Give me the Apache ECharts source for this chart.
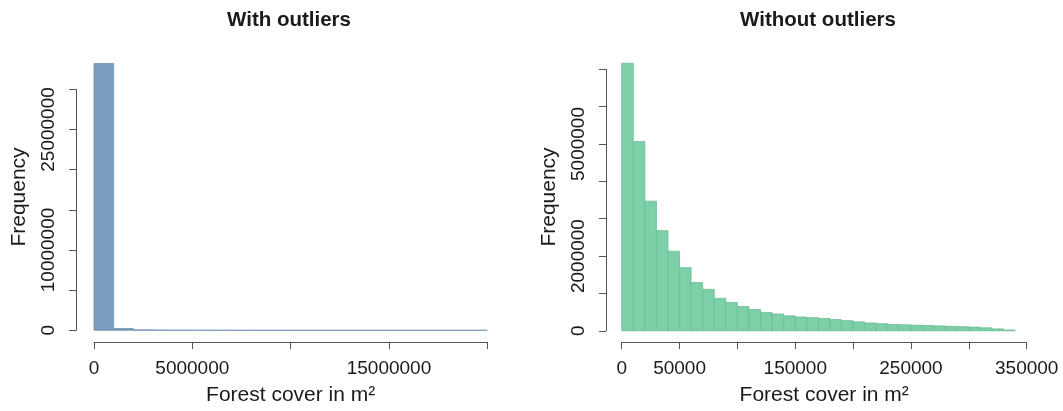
<!DOCTYPE html>
<html>
<head>
<meta charset="utf-8">
<script src="https://cdn.jsdelivr.net/npm/echarts@6/dist/echarts.min.js"></script>
<style>
html,body{margin:0;padding:0;background:#fff;}
#chart{width:1063px;height:411px;}
</style>
</head>
<body>
<div id="chart"></div>
<script>
// ---- data ----
const titles = ['With outliers', 'Without outliers'];
const xAxisTitle = 'Forest cover in m\u00b2';
const yAxisTitle = 'Frequency';

// Left histogram: bin width 1,000,000, bins from 0
const leftBinWidth = 1000000;
const leftCounts = [33200000, 220000, 60000, 25000, 12000, 8000, 5000, 4000, 3000, 2500,
                    2000, 1500, 1200, 1000, 800, 600, 500, 400, 300, 200];
const leftXTicks = [0, 5000000, 10000000, 15000000, 20000000];
const leftXLabels = [0, 5000000, 15000000];
const leftYTicks = [0, 5000000, 10000000, 15000000, 20000000, 25000000, 30000000];
const leftYLabels = [0, 10000000, 25000000];

// Right histogram: bin width 10,000, bins from 0
const rightBinWidth = 10000;
const rightCounts = [7160000, 5070000, 3470000, 2680000, 2130000, 1690000, 1290000, 1110000,
                     870000, 760000, 650000, 570000, 490000, 450000, 400000, 370000, 350000,
                     330000, 300000, 270000, 240000, 210000, 190000, 170000, 160000, 150000,
                     140000, 130000, 120000, 110000, 100000, 80000, 50000, 20000];
const rightXTicks = [0, 50000, 100000, 150000, 200000, 250000, 300000, 350000];
const rightXLabels = [0, 50000, 150000, 250000, 350000];
const rightYTicks = [0, 1000000, 2000000, 3000000, 4000000, 5000000, 6000000, 7000000];
const rightYLabels = [0, 2000000, 5000000];

// ---- styles ----
const FONT = "'Liberation Sans', Arial, Helvetica, sans-serif";
const AXIS_COLOR = '#555';
const TEXT_COLOR = '#1a1a1a';
const LEFT_FILL = '#7b9fbe';
const LEFT_STROKE = '#6d91b0';
const RIGHT_FILL = '#7dcfa8';
const RIGHT_STROKE = '#6bbd96';

function bins(counts, w) {
  return counts.map((c, i) => [i * w, (i + 1) * w, c]);
}

function histSeries(idx, data, fill, stroke) {
  return {
    type: 'custom',
    xAxisIndex: idx,
    yAxisIndex: idx,
    clip: false,
    silent: true,
    encode: { x: [0, 1], y: 2 },
    data: data,
    renderItem: function (params, api) {
      const p0 = api.coord([api.value(0), 0]);
      const p1 = api.coord([api.value(1), api.value(2)]);
      return {
        type: 'rect',
        shape: { x: p0[0], y: p1[1], width: p1[0] - p0[0], height: p0[1] - p1[1] },
        style: { fill: fill, stroke: stroke, lineWidth: 0.8 }
      };
    }
  };
}

function xAxisDef(idx, ticks, labels, offset) {
  return {
    type: 'value', gridIndex: idx,
    min: ticks[0], max: ticks[ticks.length - 1],
    interval: ticks[1] - ticks[0],
    offset: offset,
    splitLine: { show: false },
    axisLine: { show: true, onZero: false, lineStyle: { color: AXIS_COLOR, width: 1 } },
    axisTick: { show: true, length: 7, lineStyle: { color: AXIS_COLOR } },
    axisLabel: {
      show: true, margin: 17, color: TEXT_COLOR, fontFamily: FONT, fontSize: 19,
      showMinLabel: true, showMaxLabel: true,
      formatter: v => labels.indexOf(v) >= 0 ? String(v) : ''
    },
    name: xAxisTitle, nameLocation: 'middle', nameGap: 43,
    nameTextStyle: { color: TEXT_COLOR, fontFamily: FONT, fontSize: 21 }
  };
}

function yAxisDef(idx, ticks, labels, offset) {
  return {
    type: 'value', gridIndex: idx,
    min: ticks[0], max: ticks[ticks.length - 1],
    interval: ticks[1] - ticks[0],
    offset: offset,
    splitLine: { show: false },
    axisLine: { show: true, onZero: false, lineStyle: { color: AXIS_COLOR, width: 1 } },
    axisTick: { show: true, length: 7, lineStyle: { color: AXIS_COLOR } },
    axisLabel: {
      show: true, rotate: 90, margin: 18, color: TEXT_COLOR, fontFamily: FONT, fontSize: 19,
      showMinLabel: true, showMaxLabel: true,
      formatter: v => labels.indexOf(v) >= 0 ? String(v) : ''
    }
  };
}

const chart = echarts.init(document.getElementById('chart'), null, { renderer: 'canvas' });
chart.setOption({
  backgroundColor: '#fff',
  animation: false,
  grid: [
    { left: 94, right: 1063 - 487.3, top: 89.3, bottom: 411 - 331, containLabel: false },
    { left: 621.7, right: 1063 - 1026.7, top: 69.3, bottom: 411 - 331.5, containLabel: false }
  ],
  xAxis: [
    xAxisDef(0, leftXTicks, leftXLabels, 11.7),
    xAxisDef(1, rightXTicks, rightXLabels, 11.2)
  ],
  yAxis: [
    yAxisDef(0, leftYTicks, leftYLabels, 18),
    yAxisDef(1, rightYTicks, rightYLabels, 15.7)
  ],
  graphic: [
    { type: 'text', x: 289, y: 20, style: { text: titles[0], font: "bold 20.5px " + FONT, fill: TEXT_COLOR, align: 'center', verticalAlign: 'middle' } },
    { type: 'text', x: 818, y: 20, style: { text: titles[1], font: "bold 20.5px " + FONT, fill: TEXT_COLOR, align: 'center', verticalAlign: 'middle' } },
    { type: 'text', x: 19.5, y: 197, rotation: Math.PI / 2, style: { text: yAxisTitle, font: "21px " + FONT, fill: TEXT_COLOR, align: 'center', verticalAlign: 'middle' } },
    { type: 'text', x: 549, y: 197, rotation: Math.PI / 2, style: { text: yAxisTitle, font: "21px " + FONT, fill: TEXT_COLOR, align: 'center', verticalAlign: 'middle' } }
  ],
  series: [
    histSeries(0, bins(leftCounts, leftBinWidth), LEFT_FILL, LEFT_STROKE),
    histSeries(1, bins(rightCounts, rightBinWidth), RIGHT_FILL, RIGHT_STROKE)
  ]
});
</script>
</body>
</html>
